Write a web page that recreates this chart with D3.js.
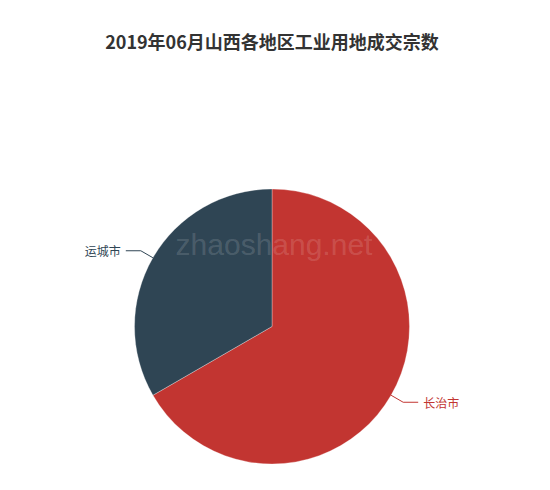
<!DOCTYPE html>
<html><head><meta charset="utf-8">
<script src="https://cdn.jsdelivr.net/npm/d3@7"></script>
<style>body{margin:0;background:#fff}svg{display:block}</style>
</head><body>
<script>
const title = "2019年06月山西各地区工业用地成交宗数";
const categories = ["长治市", "运城市"];
const values = [2, 1];
const colors = ["#c23531", "#2f4554"];

const W = 550, H = 490, cx = 272, cy = 326.5, R = 137.5;
const svg = d3.select("body").append("svg").attr("width", W).attr("height", H);

svg.append("text").attr("x", 272).attr("y", 41).attr("text-anchor", "middle")
  .attr("dominant-baseline", "central")
  .style("font-family", "'Noto Sans CJK SC', sans-serif").style("font-weight", "bold")
  .style("font-size", "18px").attr("fill", "#333").text(title);

const data = categories.map((c, i) => ({name: c, value: values[i], color: colors[i]}));
const pie = d3.pie().value(d => d.value).sort(null);
const arcs = pie(data);
const arc = d3.arc().innerRadius(0).outerRadius(R);
const g = svg.append("g").attr("transform", `translate(${cx},${cy})`);
g.selectAll("path").data(arcs).join("path").attr("d", arc)
  .attr("fill", d => d.data.color).attr("stroke", "#fff").attr("stroke-width", 0.5).attr("stroke-opacity", 0.6);

arcs.forEach(a => {
  const mid = (a.startAngle + a.endAngle) / 2;
  const sx = Math.sin(mid), sy = -Math.cos(mid);
  const p0 = [sx * R, sy * R];
  const p1 = [sx * (R + 14), sy * (R + 14)];
  const dir = sx >= 0 ? 1 : -1;
  const p2 = [p1[0] + dir * 15, p1[1]];
  g.append("polyline").attr("points", [p0, p1, p2].map(p => p.join(",")).join(" "))
    .attr("fill", "none").attr("stroke", a.data.color).attr("stroke-width", 1);
  g.append("text").attr("x", p2[0] + dir * 5).attr("y", p2[1])
    .attr("text-anchor", dir > 0 ? "start" : "end").attr("dominant-baseline", "central")
    .style("font-family", "'Noto Sans CJK SC', sans-serif").style("font-size", "12px")
    .attr("fill", a.data.color).text(a.data.name);
});

svg.append("text").attr("x", 274).attr("y", 255).attr("text-anchor", "middle")
  .style("font-family", "'Liberation Sans', Arial, sans-serif").style("font-size", "30px")
  .attr("fill", "rgba(255,255,255,0.15)").text("zhaoshang.net");
</script>
</body></html>
